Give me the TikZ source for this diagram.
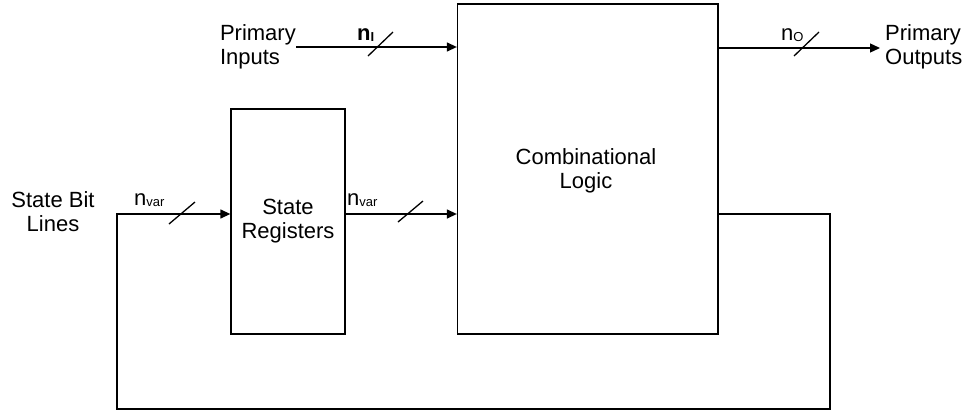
\documentclass[tikz,border=0pt]{standalone}
\usepackage{fontspec}
\setmainfont{Liberation Sans}
\usetikzlibrary{arrows.meta}
\newcommand\busw[2]{#1\raisebox{-1.5pt}{\fontsize{13}{13}\selectfont #2}}
\begin{document}
\begin{tikzpicture}[x=1pt,y=-1pt,
  every node/.style={font=\fontsize{22}{24}\selectfont, inner sep=0pt},
  box/.style={draw, line width=1.3pt, fill=white},
  wire/.style={line width=1.3pt},
  arr/.style={wire, -{Triangle[length=10pt,width=9pt]}},
  slash/.style={line width=1.3pt},
  lbl/.style={anchor=base west}]
\useasboundingbox (0,0) rectangle (967,416);
\node[box, minimum width=260.5pt, minimum height=330pt] (cl) at (587.75,169) {};
\node[align=center] (cltext) at (586,171) {Combinational\\Logic};
\node[box, minimum width=114pt, minimum height=225pt] (sr) at (288,221.5) {};
\node[align=center] (srtext) at (288,221) {State\\Registers};
% primary inputs
\node[align=left, anchor=east] (pi) at (296,47) {Primary\\Inputs};
\coordinate (pis) at (296,47);
\draw[arr] (pis) -- (cl.west |- pis);
\draw[slash] (368,56) -- (393,32);
\node[lbl] (ni) at (357,40) {\busw{\bfseries n}{\bfseries I}};
% primary outputs
\coordinate (poe) at (880,48);
\draw[arr] (cl.east |- poe) -- (poe);
\node[align=left, anchor=west] (po) at (885,47) {Primary\\Outputs};
\draw[slash] (794,56) -- (819,32);
\node[lbl] (no) at (781,40) {\busw{n}{O}};
% state registers to logic
\coordinate (s2) at (400,214);
\draw[arr] (sr.east |- s2) -- (cl.west |- s2);
\draw[slash] (398,222) -- (423,201);
\node[lbl] (nv2) at (347,205) {\busw{n}{var}};
% feedback
\coordinate (fb1) at (830,214);
\coordinate (fb2) at (830,409);
\coordinate (fb3) at (117,409);
\coordinate (fb4) at (117,214);
\draw[arr] (cl.east |- fb1) -- (fb1) -- (fb2) -- (fb3) -- (fb4) -- (sr.west |- fb4);
\draw[slash] (169,224) -- (195,202);
\node[lbl] (nv1) at (134,205) {\busw{n}{var}};
\node[align=center] (sbl) at (53,212) {State Bit\\Lines};
\end{tikzpicture}
\end{document}
